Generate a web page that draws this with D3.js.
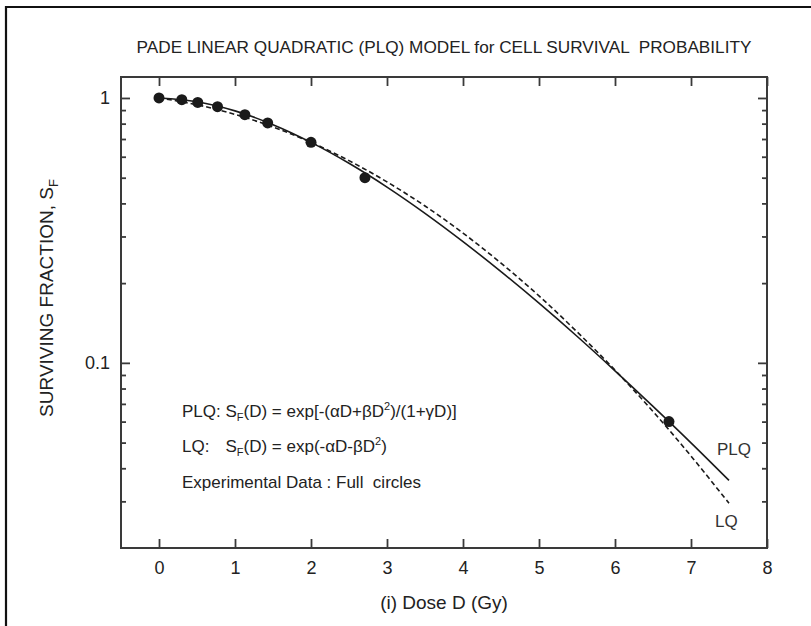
<!DOCTYPE html>
<html><head><meta charset="utf-8">
<script src="https://cdn.jsdelivr.net/npm/d3@7"></script>
<style>
body{margin:0;background:#fff;}
svg{display:block;font-family:"Liberation Sans",Arial,Helvetica,sans-serif;}
</style></head>
<body><svg id="c" width="811" height="626"></svg>
<script>
// Experimental data (full circles)
const doseData = [0, 0.30, 0.51, 0.77, 1.13, 1.43, 2.00, 2.71, 6.71];
const survData = [1.0, 0.985, 0.962, 0.927, 0.865, 0.805, 0.680, 0.500, 0.060];
// Curves
const curveDose = [0, 0.5, 1.0, 1.5, 2.0, 2.5, 3.0, 3.5, 4.0, 4.5, 5.0, 5.5, 6.0, 6.5, 7.0, 7.5];
const plqValues = [1.0, 0.968, 0.894, 0.793, 0.680, 0.567, 0.461, 0.367, 0.287, 0.221, 0.168, 0.126, 0.0933, 0.0685, 0.0499, 0.036];
const lqValues  = [1.0, 0.943, 0.867, 0.777, 0.680, 0.580, 0.482, 0.391, 0.309, 0.238, 0.179, 0.131, 0.0939, 0.0655, 0.0445, 0.0295];
const xTicks = [0, 1, 2, 3, 4, 5, 6, 7, 8];
const yMajorTicks = [1, 0.1];
const yTickLabels = ["1", "0.1"];
const yMinorTicks = [0.9,0.8,0.7,0.6,0.5,0.4,0.3,0.2,0.09,0.08,0.07,0.06,0.05,0.04,0.03];

const svg = d3.select("#c");
const L = 121, R = 767, T = 77, B = 548;
const x = d3.scaleLinear().domain([-0.5, 8]).range([L, R]);
const y = d3.scaleLog().domain([0.02, 1.2]).range([B, T]);
const ink = "#1a1a1a", frame = "#3a3a3a";

// outer frame (top and left)
svg.append("path").attr("d", `M6,626 L6,7 L811,7`).attr("fill","none")
  .attr("stroke","#111").attr("stroke-width",2.2);

// title
svg.append("text").attr("x",444).attr("y",53).attr("text-anchor","middle")
  .attr("font-size",17.2).attr("fill","#222").style("white-space","pre")
  .text("PADE LINEAR QUADRATIC (PLQ) MODEL for CELL SURVIVAL  PROBABILITY");

// axes
function styleAxis(g){ g.select(".domain").remove(); g.selectAll("line").attr("stroke",frame).attr("stroke-width",1.8); g.selectAll("text").attr("fill","#222").attr("font-size",18).attr("font-family","'Liberation Sans',Arial,sans-serif"); }
svg.append("g").attr("transform",`translate(0,${B})`)
  .call(d3.axisBottom(x).tickValues(xTicks).tickSize(-9).tickPadding(13).tickFormat(d3.format("d"))).call(styleAxis);
svg.append("g").attr("transform",`translate(0,${T})`)
  .call(d3.axisTop(x).tickValues(xTicks).tickSize(-9).tickFormat("")).call(styleAxis);
svg.append("g").attr("transform",`translate(${L},0)`)
  .call(d3.axisLeft(y).tickValues(yMajorTicks).tickSize(-9).tickPadding(11).tickFormat((d,i)=>yTickLabels[i])).call(styleAxis);
svg.append("g").attr("transform",`translate(${L},0)`)
  .call(d3.axisLeft(y).tickValues(yMinorTicks).tickSize(-5).tickFormat("")).call(styleAxis);
svg.append("g").attr("transform",`translate(${R},0)`)
  .call(d3.axisRight(y).tickValues(yMajorTicks).tickSize(-9).tickFormat("")).call(styleAxis);
svg.append("g").attr("transform",`translate(${R},0)`)
  .call(d3.axisRight(y).tickValues(yMinorTicks).tickSize(-5).tickFormat("")).call(styleAxis);

svg.append("rect").attr("x",L).attr("y",T).attr("width",R-L).attr("height",B-T)
  .attr("fill","none").attr("stroke",frame).attr("stroke-width",2);

// axis titles
svg.append("text").attr("x",444).attr("y",609).attr("text-anchor","middle")
  .attr("font-size",19).attr("fill","#222").text("(i) Dose D (Gy)");
const yt = svg.append("text").attr("transform","translate(53,298) rotate(-90)")
  .attr("text-anchor","middle").attr("font-size",19).attr("fill","#222");
yt.append("tspan").text("SURVIVING FRACTION, S");
yt.append("tspan").attr("font-size",13).attr("dy",5).text("F");

// curves
const line = d3.line().x(d=>x(d[0])).y(d=>y(d[1])).curve(d3.curveCatmullRom.alpha(0.5));
svg.append("path").datum(curveDose.map((d,i)=>[d,lqValues[i]])).attr("d",line)
  .attr("fill","none").attr("stroke",ink).attr("stroke-width",1.6).attr("stroke-dasharray","5,3");
svg.append("path").datum(curveDose.map((d,i)=>[d,plqValues[i]])).attr("d",line)
  .attr("fill","none").attr("stroke",ink).attr("stroke-width",1.6);

// data points
svg.append("g").selectAll("circle").data(doseData.map((d,i)=>[d,survData[i]])).join("circle")
  .attr("cx",d=>x(d[0])).attr("cy",d=>y(d[1])).attr("r",5.5).attr("fill",ink);

// curve labels
svg.append("text").attr("x",717).attr("y",455).attr("font-size",17).attr("fill","#333").text("PLQ");
svg.append("text").attr("x",715).attr("y",527).attr("font-size",17).attr("fill","#333").text("LQ");

// formulas: each piece is [text, shift] where shift is 0 (normal), 1 (sub), -1 (sup)
const fs = 17;
function richText(xp, yp, pieces){
  const t = svg.append("text").attr("x",xp).attr("y",yp).attr("font-size",fs).attr("fill","#222").style("white-space","pre");
  let cur = 0;
  pieces.forEach(p=>{
    const target = p[1]===1 ? 4 : (p[1]===-1 ? -7 : 0);
    const ts = t.append("tspan").attr("dy", target-cur).text(p[0]);
    if (p[1]!==0) ts.attr("font-size",11);
    if (p[2]!==undefined) ts.attr("x",p[2]);
    cur = target;
  });
  return t;
}
const t1 = richText(182, 417, [["PLQ: ",0],["S",0],["F",1],["(D) = exp[-(\u03B1D+\u03B2D",0],["2",-1],[")/(1+\u03B3D)]",0]]);
const sx = 182 + t1.select("tspan").node().getComputedTextLength();
richText(182, 452, [["LQ:",0],["S",0,sx],["F",1],["(D) = exp(-\u03B1D-\u03B2D",0],["2",-1],[")",0]]);
richText(182, 488, [["Experimental Data : Full  circles",0]]);
</script>
</body></html>
